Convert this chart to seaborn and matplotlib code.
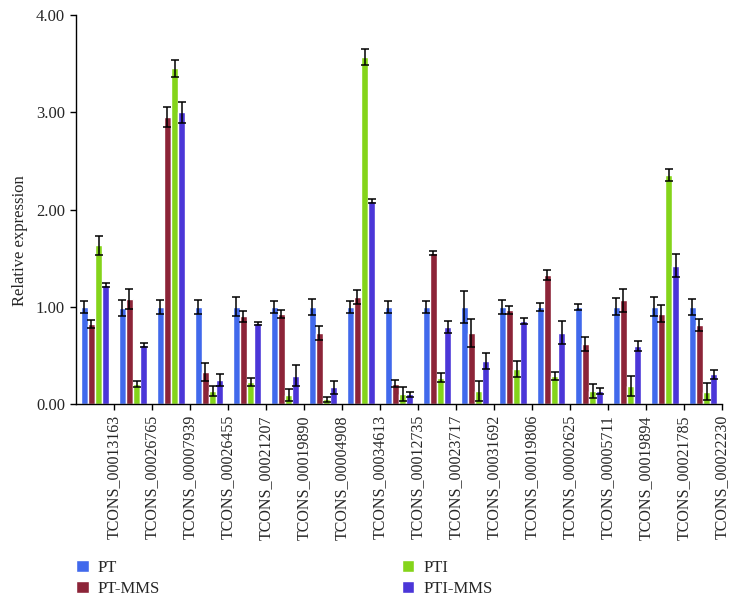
import matplotlib
matplotlib.use('Agg')
import matplotlib.pyplot as plt
import numpy as np
import pandas as pd
import seaborn as sns

# Data
genes = ['TCONS_00013163', 'TCONS_00026765', 'TCONS_00007939', 'TCONS_00026455',
         'TCONS_00021207', 'TCONS_00019890', 'TCONS_00004908', 'TCONS_00034613',
         'TCONS_00012735', 'TCONS_00023717', 'TCONS_00031692', 'TCONS_00019806',
         'TCONS_00002625', 'TCONS_00005711', 'TCONS_00019894', 'TCONS_00021785',
         'TCONS_00022230']
groups = ['PT', 'PT-MMS', 'PTI', 'PTI-MMS']

pt = [1.00, 0.99, 1.00, 1.00, 1.00, 1.00, 1.00, 1.00, 1.00, 1.00, 1.00, 1.00, 1.00, 1.00, 1.00, 1.00, 1.00]
pt_err = [0.06, 0.08, 0.07, 0.07, 0.10, 0.06, 0.08, 0.06, 0.06, 0.06, 0.165, 0.07, 0.04, 0.03, 0.085, 0.10, 0.08]

pt_mms = [0.82, 1.08, 2.95, 0.33, 0.90, 0.925, 0.73, 1.10, 0.21, 1.556, 0.73, 0.967, 1.323, 0.614, 1.066, 0.93, 0.81]
pt_mms_err = [0.04, 0.10, 0.10, 0.09, 0.06, 0.04, 0.07, 0.07, 0.04, 0.02, 0.14, 0.04, 0.05, 0.07, 0.12, 0.085, 0.06]

pti = [1.63, 0.205, 3.45, 0.13, 0.23, 0.09, 0.05, 3.57, 0.10, 0.27, 0.134, 0.36, 0.288, 0.134, 0.185, 2.355, 0.126]
pti_err = [0.10, 0.03, 0.09, 0.05, 0.04, 0.06, 0.025, 0.08, 0.07, 0.045, 0.10, 0.085, 0.04, 0.07, 0.10, 0.06, 0.085]

pti_mms = [1.22, 0.61, 3.00, 0.25, 0.83, 0.29, 0.17, 2.09, 0.10, 0.795, 0.44, 0.853, 0.733, 0.134, 0.596, 1.422, 0.305]
pti_mms_err = [0.02, 0.02, 0.11, 0.06, 0.015, 0.11, 0.07, 0.02, 0.025, 0.06, 0.08, 0.03, 0.12, 0.035, 0.055, 0.12, 0.045]

colors = ['#4169EC', '#8C2438', '#84D41A', '#4B36D8']

values = [pt, pt_mms, pti, pti_mms]
errors = [pt_err, pt_mms_err, pti_err, pti_mms_err]

df = pd.DataFrame({
    'gene': genes * len(groups),
    'group': np.repeat(groups, len(genes)),
    'value': np.concatenate(values),
})

sns.set_style('ticks')
plt.rcParams['font.family'] = ['Liberation Serif', 'DejaVu Serif']

fig = plt.figure(figsize=(7.4, 6.04), dpi=100)
ax = fig.add_axes([76 / 740, 1 - 404 / 604, (722 - 76) / 740, (404 - 15) / 604])

sns.barplot(data=df, x='gene', y='value', hue='group', order=genes, hue_order=groups,
            palette=colors, saturation=1, width=0.74, errorbar=None, ax=ax)

# error bars on top of each bar
for cont, err in zip(ax.containers, errors):
    xs = [b.get_x() + b.get_width() / 2 for b in cont]
    hs = [b.get_height() for b in cont]
    ax.errorbar(xs, hs, yerr=err, fmt='none', ecolor='black', elinewidth=1.1,
                capsize=3.2, capthick=1.1, zorder=5)

ax.set_ylim(0, 4)
ax.set_yticks([0, 1, 2, 3, 4])
ax.set_yticklabels([f'{v:.2f}' for v in [0, 1, 2, 3, 4]], fontsize=12)
ax.set_xlim(-0.5, len(genes) - 0.5)
ax.set_xticks(np.arange(len(genes)) + 0.5)
ax.set_xticklabels(genes, rotation=90, fontsize=11.5, ha='center', va='top')
ax.tick_params(axis='both', length=4, width=1, color='black', pad=4)
ax.set_xlabel('')
ax.set_ylabel('Relative expression', fontsize=12)
ax.yaxis.set_label_coords(-0.075, 0.42)
for side in ['left', 'bottom']:
    ax.spines[side].set_color('black')
    ax.spines[side].set_linewidth(1)
sns.despine(ax=ax)

sns.move_legend(ax, 'upper left', bbox_to_anchor=(76 / 740, 1 - 560 / 604),
                bbox_transform=fig.transFigure, ncol=2, title=None, frameon=False,
                fontsize=12, handlelength=0.75, handleheight=0.75, handletextpad=0.55,
                columnspacing=14.5, labelspacing=0.3, borderaxespad=0, borderpad=0)

fig.savefig('out.png', dpi=100)
